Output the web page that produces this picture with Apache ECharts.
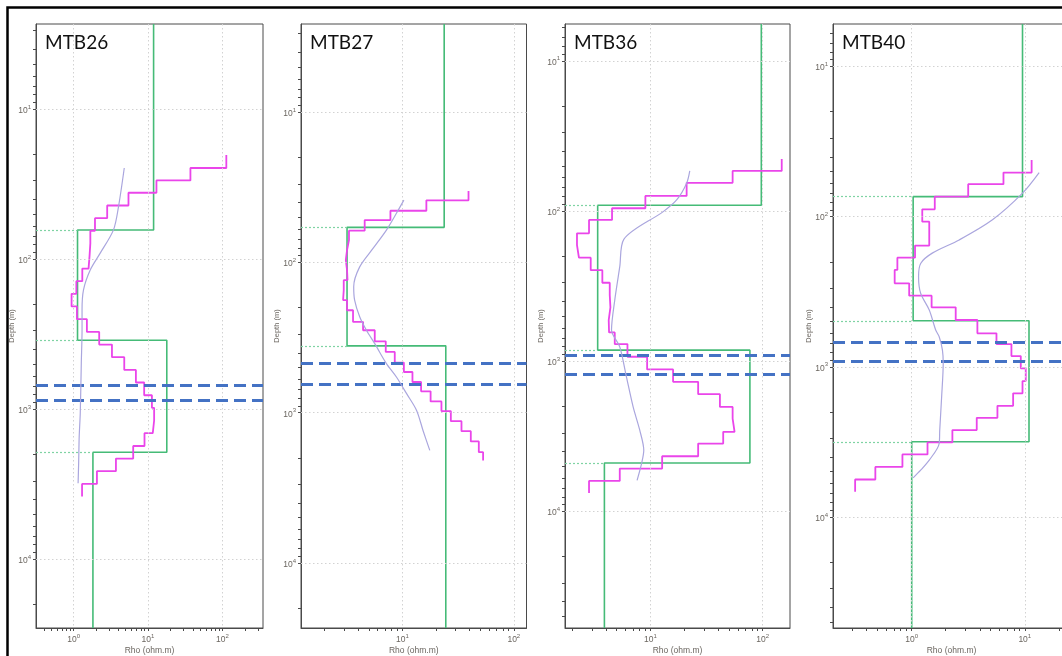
<!DOCTYPE html>
<html>
<head>
<meta charset="utf-8">
<script src="https://cdn.jsdelivr.net/npm/echarts@6/dist/echarts.min.js"></script>
<style>
  html, body { margin: 0; padding: 0; background: #fff; }
  #main { width: 1062px; height: 656px; }
</style>
</head>
<body>
<div id="main"></div>
<script>
// station names (panel titles)
const stations = ['MTB26', 'MTB27', 'MTB36', 'MTB40'];

// ---- MTB26 ----
// layered model: resistivity per layer (ohm.m) and interface depths (m)
const mtb26ModelRho = [11.9, 1.13, 17.9, 1.82];
const mtb26ModelDepth = [64, 347, 1935];
// smooth (many-layer) inversion: layer boundaries and resistivities
const mtb26OccamDepth = [20.2, 24.7, 29.9, 36.1, 43.9, 53.3, 64.7, 78.5, 95.1, 115.6, 140.3, 170.2, 206.5, 251.2,
  305.5, 370.7, 449.8, 547, 663.7, 807.2, 979.3, 1189, 1445, 1758, 2133, 2588, 3148, 3819];
const mtb26OccamRho = [113, 37.2, 13.0, 5.47, 2.83, 1.94, 1.68, 1.64, 1.59, 1.31, 1.09, 0.94, 1.11, 1.51,
  2.21, 3.28, 4.80, 6.88, 8.89, 11.3, 12.1, 11.6, 8.98, 6.33, 3.71, 2.06, 1.30];
// bostick curve
const mtb26BostickRho = [4.8, 4.02, 3.44, 2.28, 1.68, 1.36, 1.30, 1.30, 1.27, 1.23, 1.19, 1.17, 1.15];
const mtb26BostickDepth = [24.7, 44.6, 63.8, 91.2, 117.7, 160, 218, 296, 493, 1063, 1523, 2291, 3113];
// dashed marker depths
const mtb26Marker = [697, 871];

// ---- MTB27 ----
const mtb27ModelRho = [23.7, 3.18, 24.5];
const mtb27ModelDepth = [58.4, 359];
const mtb27OccamDepth = [33.4, 38.6, 45.3, 52.2, 61.5, 71.0, 82.8, 96.6, 112.5, 131.2, 153, 178.2, 208, 249,
  282.6, 335, 394, 464, 536, 625, 721, 841, 975, 1138, 1327, 1553, 1832, 2080];
const mtb27OccamRho = [39.2, 16.4, 7.8, 4.58, 3.31, 3.18, 3.10, 3.18, 3.21, 2.97, 2.93, 3.18, 3.60, 4.43,
  5.64, 7.08, 8.53, 10.3, 12.3, 14.7, 17.9, 22.4, 27.2, 33.9, 41.1, 48.5, 53.0];
const mtb27BostickRho = [10.3, 8.83, 7.18, 5.44, 4.13, 3.65, 3.72, 4.13, 4.75, 5.64, 7.18, 8.83, 10.9, 13.4, 15.3, 17.6];
const mtb27BostickDepth = [38.5, 47.1, 60.9, 80.7, 107, 145, 178, 230, 283, 347, 471, 579, 747, 966, 1313, 1782];
const mtb27Marker = [464, 647];

// ---- MTB36 ----
const mtb36ModelRho = [97.3, 3.38, 77, 3.88];
const mtb36ModelDepth = [91.6, 845, 4764];
const mtb36OccamDepth = [45, 54.1, 65, 79.4, 95.9, 114.8, 140.9, 168.6, 204.8, 248, 300.6, 363, 438.5, 533,
  644, 770, 935, 1135, 1374, 1660, 2017, 2411, 2958, 3538, 4299, 5190, 6279, 7551];
const mtb36OccamRho = [148, 54, 21, 9.0, 4.54, 2.83, 2.21, 2.30, 2.93, 3.72, 4.33, 4.39, 4.24, 4.27,
  4.80, 6.23, 9.33, 15.9, 26.6, 41.6, 54, 56.2, 44.5, 26.6, 12.7, 5.32, 2.83];
const mtb36BostickRho = [22.4, 21, 17.1, 13, 5.78, 5.32, 4.8, 4.49, 5.32, 6.1, 7.0, 8.02, 8.71, 8.32, 7.59];
const mtb36BostickDepth = [54.1, 65.3, 84.5, 101, 154.5, 235, 392, 621, 803, 1273, 2017, 2884, 3920, 4808, 6215];
const mtb36Marker = [902, 1221];

// ---- MTB40 ----
const mtb40ModelRho = [9.55, 1.03, 10.9, 1.0];
const mtb40ModelDepth = [73.6, 494, 3162];
const mtb40OccamDepth = [41.9, 50.9, 60.8, 73.6, 89.4, 108, 129.8, 156, 187.6, 226.6, 278, 336.3, 401.8, 488.3,
  598.7, 705.6, 848.5, 1025, 1245, 1504, 1820, 2188, 2642, 3190, 3836, 4645, 5636, 6808];
const mtb40OccamRho = [11.5, 6.48, 3.16, 1.60, 1.24, 1.43, 1.43, 1.07, 0.747, 0.707, 0.95, 1.50, 2.45, 3.81,
  5.62, 7.62, 9.22, 10.2, 9.55, 7.89, 5.73, 3.76, 2.29, 1.38, 0.828, 0.477, 0.316];
const mtb40BostickRho = [13.4, 9.55, 5.18, 2.63, 1.52, 1.20, 1.15, 1.20, 1.43, 1.63, 1.75, 1.87, 1.90, 1.84, 1.77, 1.75, 1.43, 1.20, 1.03];
const mtb40BostickDepth = [50.9, 69.8, 105, 143, 175, 205, 251, 324, 419, 569, 631, 774, 949, 1585, 2642, 3243, 4188, 4887, 5495];
const mtb40Marker = [684, 912];

const panels = [
  { modelRho: mtb26ModelRho, modelDepth: mtb26ModelDepth, occD: mtb26OccamDepth, occR: mtb26OccamRho,
    bosR: mtb26BostickRho, bosD: mtb26BostickDepth, marker: mtb26Marker },
  { modelRho: mtb27ModelRho, modelDepth: mtb27ModelDepth, occD: mtb27OccamDepth, occR: mtb27OccamRho,
    bosR: mtb27BostickRho, bosD: mtb27BostickDepth, marker: mtb27Marker },
  { modelRho: mtb36ModelRho, modelDepth: mtb36ModelDepth, occD: mtb36OccamDepth, occR: mtb36OccamRho,
    bosR: mtb36BostickRho, bosD: mtb36BostickDepth, marker: mtb36Marker },
  { modelRho: mtb40ModelRho, modelDepth: mtb40ModelDepth, occD: mtb40OccamDepth, occR: mtb40OccamRho,
    bosR: mtb40BostickRho, bosD: mtb40BostickDepth, marker: mtb40Marker }
];

// layout: grid box + axis extents (in log10 units)
const layout = [
  { left: 36, width: 227, x: [-0.505, 2.546], y: [0.433, 4.458] },
  { left: 301, width: 225.5, x: [0.089, 2.114], y: [0.413, 4.433] },
  { left: 565, width: 225, x: [0.2375, 2.244], y: [0.755, 4.777] },
  { left: 833, width: 237, x: [-0.696, 1.40], y: [0.717, 4.74] }
];
const TOP = 24, HEIGHT = 604;

const GREEN = '#45bb77', MAGENTA = '#ea45ea', LAVENDER = '#aaa6de', BLUE = '#4472c4';
const LABEL_FONT = 'Liberation Sans';
const LABEL_COLOR = '#6b6660';

const lg = v => Math.log10(v);

function minorTicks(ext) {
  const out = [];
  for (let n = Math.floor(ext[0]); n <= Math.ceil(ext[1]); n++) {
    for (let k = 1; k <= 9; k++) {
      const v = n + Math.log10(k);
      if (v >= ext[0] && v <= ext[1]) out.push(v);
    }
  }
  return out;
}
function decades(ext) {
  const out = [];
  for (let n = Math.ceil(ext[0]); n <= Math.floor(ext[1]); n++) out.push(n);
  return out;
}
function modelPoints(rho, depth, ext) {
  const pts = [[lg(rho[0]), ext[0]]];
  depth.forEach((d, i) => {
    pts.push([lg(rho[i]), lg(d)]);
    pts.push([lg(rho[i + 1]), lg(d)]);
  });
  pts.push([lg(rho[rho.length - 1]), ext[1]]);
  return pts;
}
function stairPoints(depth, rho) {
  const pts = [];
  rho.forEach((r, i) => {
    pts.push([lg(r), lg(depth[i])]);
    pts.push([lg(r), lg(depth[i + 1])]);
  });
  return pts;
}

const richLabel = {
  b: { fontSize: 8.5, color: LABEL_COLOR, fontFamily: LABEL_FONT, verticalAlign: 'bottom', lineHeight: 12 },
  s: { fontSize: 6, color: LABEL_COLOR, fontFamily: LABEL_FONT, verticalAlign: 'bottom', lineHeight: 12, padding: [0, 0, 5, 0] }
};
const labelFmt = v => '{b|10}{s|' + Math.round(v) + '}';

const grids = [], xAxes = [], yAxes = [], series = [], titles = [];

layout.forEach((L, i) => {
  const P = panels[i];
  grids.push({ left: L.left, top: TOP, width: L.width, height: HEIGHT, show: true,
    outerBoundsMode: 'none', containLabel: false,
    borderColor: '#4a4a4a', borderWidth: 1, backgroundColor: 'transparent' });
  xAxes.push({
    type: 'value', gridIndex: i, min: L.x[0], max: L.x[1], position: 'bottom',
    name: 'Rho (ohm.m)', nameLocation: 'middle', nameGap: 18, nameMoveOverlap: false,
    nameTextStyle: { fontSize: 8.5, color: LABEL_COLOR, fontFamily: LABEL_FONT },
    axisLine: { show: true, onZero: false, lineStyle: { color: '#4a4a4a', width: 1 } },
    axisTick: { show: true, inside: false, length: 3, customValues: minorTicks(L.x), lineStyle: { color: '#4a4a4a' } },
    axisLabel: { customValues: decades(L.x), formatter: labelFmt, rich: richLabel, margin: 4 },
    splitLine: { show: false }
  });
  yAxes.push({
    type: 'value', gridIndex: i, min: L.y[0], max: L.y[1], inverse: true, position: 'left',
    name: 'Depth (m)', nameLocation: 'middle', nameGap: 20, nameMoveOverlap: false,
    nameTextStyle: { fontSize: 7.5, color: LABEL_COLOR, fontFamily: LABEL_FONT },
    axisLine: { show: true, onZero: false, lineStyle: { color: '#4a4a4a', width: 1 } },
    axisTick: { show: true, inside: false, length: 3, customValues: minorTicks(L.y), lineStyle: { color: '#4a4a4a' } },
    axisLabel: { customValues: decades(L.y), formatter: labelFmt, rich: richLabel, margin: 5 },
    splitLine: { show: false }
  });
  titles.push({ text: stations[i], left: L.left + 9, top: TOP + 9, padding: 0,
    textStyle: { fontFamily: 'Lato', fontSize: 19, fontWeight: 'normal', color: '#111' } });

  // dotted grid lines at decades
  const gridLines = decades(L.x).map(v => ({ xAxis: v })).concat(decades(L.y).map(v => ({ yAxis: v })));
  series.push({
    type: 'line', xAxisIndex: i, yAxisIndex: i, data: [], z: 1, silent: true,
    markLine: { silent: true, symbol: ['none', 'none'], label: { show: false }, animation: false,
      lineStyle: { color: '#d2d2d2', type: [1.5, 2.5], width: 1 }, data: gridLines }
  });

  // dotted interface lines from the depth axis to the model step
  const ifaceLines = P.modelDepth.map((d, k) => [
    { coord: [L.x[0], lg(d)] },
    { coord: [lg(Math.min(P.modelRho[k], P.modelRho[k + 1])), lg(d)] }
  ]);
  series.push({
    type: 'line', xAxisIndex: i, yAxisIndex: i, data: [], z: 2, silent: true,
    markLine: { silent: true, symbol: ['none', 'none'], label: { show: false }, animation: false,
      lineStyle: { color: '#7fd3a3', type: [2, 2], width: 1.2 }, data: ifaceLines }
  });

  // layered model
  series.push({
    type: 'line', xAxisIndex: i, yAxisIndex: i, data: modelPoints(P.modelRho, P.modelDepth, L.y),
    showSymbol: false, z: 3, lineStyle: { color: GREEN, width: 1.6 }, animation: false
  });
  // smooth inversion staircase
  series.push({
    type: 'line', xAxisIndex: i, yAxisIndex: i, data: stairPoints(P.occD, P.occR),
    showSymbol: false, z: 4, lineStyle: { color: MAGENTA, width: 1.8 }, animation: false
  });
  // bostick curve
  series.push({
    type: 'line', xAxisIndex: i, yAxisIndex: i, data: P.bosR.map((r, k) => [lg(r), lg(P.bosD[k])]),
    showSymbol: false, smooth: 0.3, z: 5, lineStyle: { color: LAVENDER, width: 1.2 }, animation: false
  });
  // dashed markers
  series.push({
    type: 'line', xAxisIndex: i, yAxisIndex: i, data: [], z: 6, silent: true,
    markLine: { silent: true, symbol: ['none', 'none'], label: { show: false }, animation: false,
      lineStyle: { color: BLUE, type: [12, 6], width: 3.2 }, data: P.marker.map(d => ({ yAxis: lg(d) })) }
  });
});

const chart = echarts.init(document.getElementById('main'));
chart.setOption({
  animation: false,
  backgroundColor: '#fff',
  title: titles,
  grid: grids,
  xAxis: xAxes,
  yAxis: yAxes,
  series: series,
  graphic: [{
    type: 'rect', silent: true, z: 100,
    shape: { x: 7.5, y: 7.5, width: 1200, height: 800 },
    style: { fill: 'none', stroke: '#000', lineWidth: 2.5 }
  }]
});
</script>
</body>
</html>
